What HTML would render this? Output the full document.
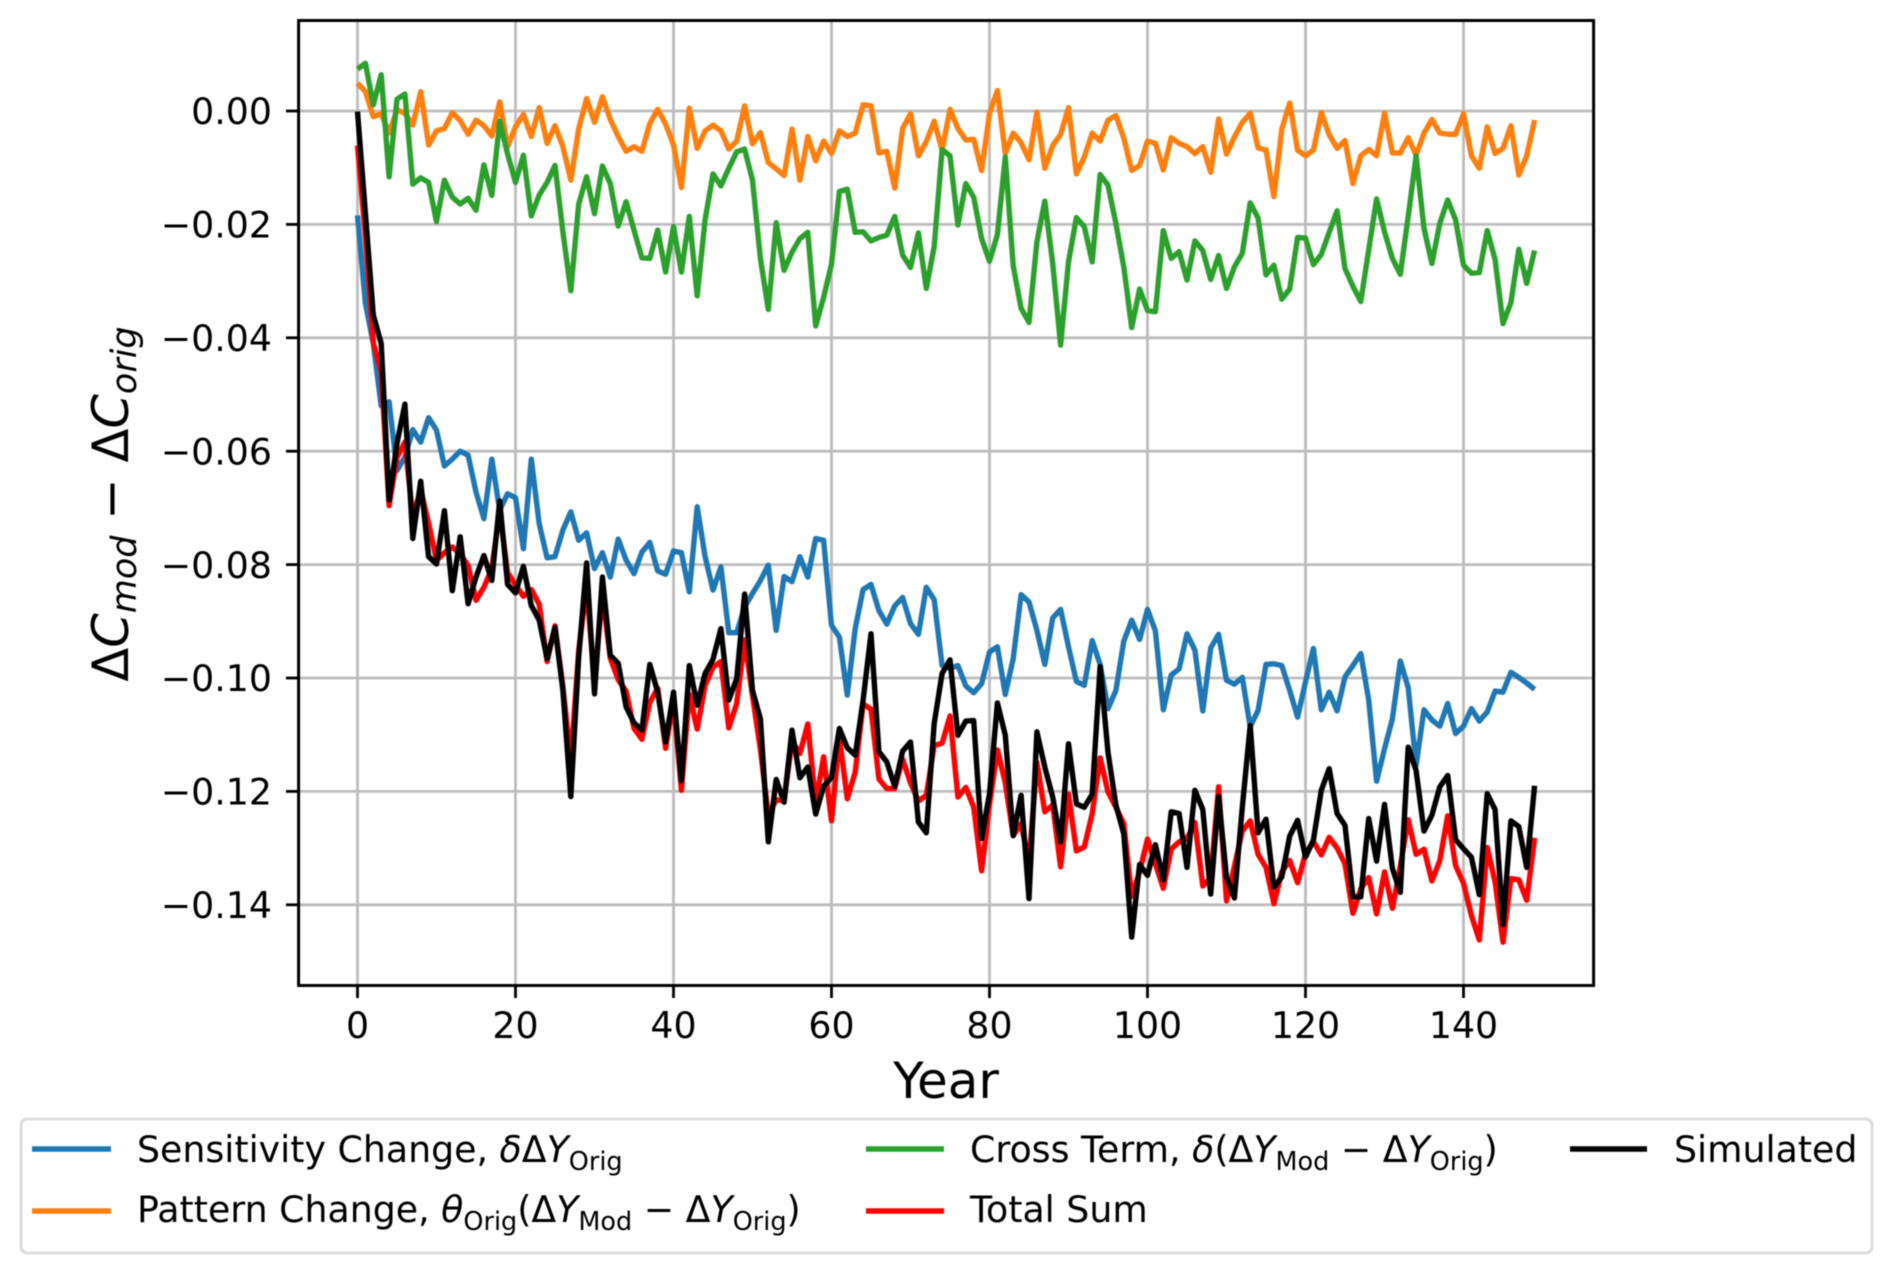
<!DOCTYPE html>
<html lang="en">
<head>
<meta charset="utf-8">
<title>Change in C by year</title>
<style>
html,body{margin:0;padding:0;background:#fff;}
svg{display:block;font-family:"DejaVu Sans","Liberation Sans",sans-serif;fill:#000;filter:blur(0.6px);}
text{white-space:pre;}
</style>
</head>
<body>
<svg id="chart" xmlns="http://www.w3.org/2000/svg" width="1892" height="1274" viewBox="0 0 1892 1274">
<defs><clipPath id="plot-clip"><rect x="298.6" y="20.5" width="1295" height="965"/></clipPath></defs>
<rect x="0" y="0" width="1892" height="1274" fill="#fff"/>
<g id="grid"></g>
<g id="series" clip-path="url(#plot-clip)"></g>
<rect x="298.6" y="20.5" width="1295" height="965" fill="none" stroke="#000" stroke-width="3"/>
<g id="ticks"></g>
<text x="946" y="1098" font-size="50" text-anchor="middle">Year</text>
<text transform="translate(128,504) rotate(-90)" font-size="49.5" text-anchor="middle">Δ<tspan font-style="italic">C</tspan><tspan font-style="italic" font-size="35" dy="8">mod</tspan><tspan dy="-8"> − Δ</tspan><tspan font-style="italic">C</tspan><tspan font-style="italic" font-size="35" dy="8">orig</tspan></text>
<g>
<rect x="21" y="1119" width="1851" height="134" rx="6" ry="6" fill="#fff" stroke="#dcdcdc" stroke-width="3"/>
<line x1="32" x2="111" y1="1149" y2="1149" stroke="#1f77b4" stroke-width="5.4"/>
<text x="137" y="1162" font-size="36.3">Sensitivity Change, <tspan font-style="italic">δ</tspan>Δ<tspan font-style="italic">Y</tspan><tspan font-size="25.5" dy="8">Orig</tspan></text>
<line x1="32" x2="111" y1="1211" y2="1211" stroke="#ff7f0e" stroke-width="5.4"/>
<text x="137" y="1222" font-size="36.3">Pattern Change, <tspan font-style="italic">θ</tspan><tspan font-size="25.5" dy="8">Orig</tspan><tspan dy="-8">(Δ</tspan><tspan font-style="italic">Y</tspan><tspan font-size="25.5" dy="8">Mod</tspan><tspan dy="-8"> − Δ</tspan><tspan font-style="italic">Y</tspan><tspan font-size="25.5" dy="8">Orig</tspan><tspan dy="-8">)</tspan></text>
<line x1="866" x2="944" y1="1149" y2="1149" stroke="#2ca02c" stroke-width="5.4"/>
<text x="970" y="1162" font-size="36.3">Cross Term, <tspan font-style="italic">δ</tspan>(Δ<tspan font-style="italic">Y</tspan><tspan font-size="25.5" dy="8">Mod</tspan><tspan dy="-8"> − Δ</tspan><tspan font-style="italic">Y</tspan><tspan font-size="25.5" dy="8">Orig</tspan><tspan dy="-8">)</tspan></text>
<line x1="866" x2="944" y1="1211" y2="1211" stroke="#ff0000" stroke-width="5.4"/>
<text x="970" y="1222" font-size="36.3">Total Sum</text>
<line x1="1570" x2="1647" y1="1149" y2="1149" stroke="#000" stroke-width="5.4"/>
<text x="1674" y="1162" font-size="36.3">Simulated</text>
</g>
</svg>
<script>
const xTickValues = [0, 20, 40, 60, 80, 100, 120, 140];
const xTickLabels = ["0", "20", "40", "60", "80", "100", "120", "140"];
const yTickValues = [0, -0.02, -0.04, -0.06, -0.08, -0.10, -0.12, -0.14];
const yTickLabels = ["0.00", "−0.02", "−0.04", "−0.06", "−0.08", "−0.10", "−0.12", "−0.14"];

const sensitivityChange = [-0.0184,-0.0339,-0.0410,-0.0520,-0.0513,-0.0634,-0.0610,-0.0562,-0.0584,-0.0541,
-0.0563,-0.0626,-0.0614,-0.0600,-0.0607,-0.0672,-0.0719,-0.0614,-0.0704,-0.0675,
-0.0682,-0.0772,-0.0614,-0.0728,-0.0788,-0.0786,-0.0739,-0.0707,-0.0757,-0.0744,
-0.0807,-0.0779,-0.0822,-0.0755,-0.0792,-0.0816,-0.0778,-0.0761,-0.0811,-0.0817,
-0.0776,-0.0779,-0.0848,-0.0698,-0.0786,-0.0845,-0.0804,-0.0920,-0.0920,-0.0875,
-0.0851,-0.0828,-0.0801,-0.0916,-0.0821,-0.0830,-0.0786,-0.0822,-0.0754,-0.0757,
-0.0907,-0.0928,-0.1030,-0.0913,-0.0844,-0.0835,-0.0881,-0.0905,-0.0873,-0.0858,
-0.0904,-0.0923,-0.0840,-0.0862,-0.0978,-0.0983,-0.0978,-0.1014,-0.1026,-0.1010,
-0.0954,-0.0945,-0.1029,-0.0966,-0.0853,-0.0866,-0.0916,-0.0976,-0.0894,-0.0879,
-0.0945,-0.1006,-0.1013,-0.0934,-0.0976,-0.1054,-0.1022,-0.0935,-0.0898,-0.0932,
-0.0879,-0.0917,-0.1056,-0.0995,-0.0984,-0.0922,-0.0951,-0.1058,-0.0947,-0.0923,
-0.1004,-0.1011,-0.0999,-0.1086,-0.1057,-0.0976,-0.0975,-0.0978,-0.1022,-0.1069,
-0.1007,-0.0948,-0.1056,-0.1025,-0.1058,-0.0998,-0.0978,-0.0957,-0.1039,-0.1182,
-0.1125,-0.1072,-0.0970,-0.1017,-0.1154,-0.1056,-0.1074,-0.1085,-0.1045,-0.1098,
-0.1085,-0.1054,-0.1076,-0.1060,-0.1023,-0.1025,-0.0990,-0.0999,-0.1009,-0.1020];

const patternChange = [0.0049,0.0034,-0.0010,-0.0005,-0.0039,0.0002,-0.0004,-0.0025,0.0034,-0.0060,
-0.0035,-0.0031,-0.0003,-0.0017,-0.0041,-0.0016,-0.0026,-0.0044,0.0016,-0.0063,
-0.0028,-0.0006,-0.0045,0.0006,-0.0057,-0.0026,-0.0063,-0.0122,-0.0031,0.0022,
-0.0020,0.0025,-0.0015,-0.0045,-0.0071,-0.0063,-0.0071,-0.0022,0.0003,-0.0023,
-0.0060,-0.0135,0.0005,-0.0066,-0.0035,-0.0025,-0.0035,-0.0067,-0.0053,0.0009,
-0.0058,-0.0038,-0.0091,-0.0102,-0.0114,-0.0032,-0.0122,-0.0045,-0.0088,-0.0053,
-0.0075,-0.0035,-0.0045,-0.0039,0.0011,0.0009,-0.0074,-0.0071,-0.0136,-0.0031,
-0.0005,-0.0079,-0.0054,-0.0018,-0.0069,0.0003,-0.0031,-0.0051,-0.0050,-0.0105,
-0.0004,0.0036,-0.0075,-0.0039,-0.0056,-0.0086,-0.0002,-0.0101,-0.0061,-0.0041,
0.0006,-0.0111,-0.0081,-0.0039,-0.0053,-0.0016,-0.0008,-0.0048,-0.0105,-0.0096,
-0.0053,-0.0057,-0.0104,-0.0047,-0.0057,-0.0063,-0.0075,-0.0063,-0.0108,-0.0014,
-0.0076,-0.0046,-0.0020,-0.0004,-0.0065,-0.0069,-0.0151,-0.0032,0.0014,-0.0069,
-0.0079,-0.0069,-0.0003,-0.0042,-0.0066,-0.0052,-0.0128,-0.0079,-0.0068,-0.0079,
-0.0004,-0.0074,-0.0074,-0.0047,-0.0078,-0.0039,-0.0015,-0.0039,-0.0041,-0.0041,
-0.0005,-0.0079,-0.0101,-0.0028,-0.0075,-0.0066,-0.0026,-0.0113,-0.0079,-0.0016];

const crossTerm = [0.0074,0.0084,0.0011,0.0064,-0.0116,0.0021,0.0030,-0.0129,-0.0118,-0.0126,
-0.0195,-0.0122,-0.0152,-0.0164,-0.0154,-0.0175,-0.0095,-0.0149,-0.0018,-0.0076,
-0.0126,-0.0078,-0.0185,-0.0148,-0.0126,-0.0096,-0.0213,-0.0317,-0.0164,-0.0116,
-0.0181,-0.0097,-0.0128,-0.0203,-0.0160,-0.0210,-0.0259,-0.0260,-0.0210,-0.0284,
-0.0204,-0.0284,-0.0186,-0.0326,-0.0192,-0.0111,-0.0132,-0.0101,-0.0072,-0.0067,
-0.0122,-0.0260,-0.0350,-0.0197,-0.0281,-0.0249,-0.0225,-0.0214,-0.0379,-0.0329,
-0.0270,-0.0142,-0.0138,-0.0214,-0.0213,-0.0229,-0.0223,-0.0219,-0.0186,-0.0254,
-0.0276,-0.0215,-0.0313,-0.0239,-0.0068,-0.0079,-0.0201,-0.0128,-0.0152,-0.0225,
-0.0265,-0.0218,-0.0081,-0.0273,-0.0348,-0.0373,-0.0231,-0.0159,-0.0269,-0.0413,
-0.0266,-0.0188,-0.0204,-0.0266,-0.0112,-0.0131,-0.0198,-0.0275,-0.0382,-0.0314,
-0.0352,-0.0354,-0.0211,-0.0260,-0.0248,-0.0298,-0.0229,-0.0246,-0.0297,-0.0255,
-0.0313,-0.0275,-0.0251,-0.0162,-0.0189,-0.0289,-0.0272,-0.0332,-0.0314,-0.0223,
-0.0224,-0.0271,-0.0253,-0.0214,-0.0176,-0.0278,-0.0309,-0.0336,-0.0245,-0.0155,
-0.0213,-0.0260,-0.0288,-0.0186,-0.0079,-0.0207,-0.0269,-0.0198,-0.0157,-0.0192,
-0.0272,-0.0286,-0.0285,-0.0211,-0.0262,-0.0375,-0.0338,-0.0244,-0.0304,-0.0246];

const totalSum = [-0.0061,-0.0221,-0.0409,-0.0461,-0.0696,-0.0611,-0.0584,-0.0716,-0.0668,-0.0727,
-0.0793,-0.0779,-0.0769,-0.0781,-0.0802,-0.0863,-0.0840,-0.0807,-0.0706,-0.0814,
-0.0836,-0.0856,-0.0844,-0.0870,-0.0971,-0.0908,-0.1015,-0.1146,-0.0952,-0.0838,
-0.1008,-0.0851,-0.0965,-0.1003,-0.1023,-0.1089,-0.1108,-0.1043,-0.1018,-0.1124,
-0.1040,-0.1198,-0.1029,-0.1090,-0.1013,-0.0981,-0.0971,-0.1088,-0.1045,-0.0933,
-0.1031,-0.1126,-0.1242,-0.1215,-0.1216,-0.1111,-0.1133,-0.1081,-0.1221,-0.1139,
-0.1252,-0.1105,-0.1213,-0.1166,-0.1046,-0.1055,-0.1178,-0.1195,-0.1195,-0.1143,
-0.1185,-0.1217,-0.1207,-0.1119,-0.1115,-0.1067,-0.1210,-0.1193,-0.1228,-0.1340,
-0.1223,-0.1127,-0.1185,-0.1278,-0.1257,-0.1325,-0.1149,-0.1236,-0.1224,-0.1333,
-0.1205,-0.1305,-0.1298,-0.1239,-0.1141,-0.1201,-0.1228,-0.1257,-0.1385,-0.1342,
-0.1284,-0.1328,-0.1371,-0.1302,-0.1289,-0.1283,-0.1255,-0.1367,-0.1352,-0.1192,
-0.1393,-0.1332,-0.1270,-0.1252,-0.1311,-0.1334,-0.1398,-0.1342,-0.1322,-0.1361,
-0.1310,-0.1288,-0.1312,-0.1281,-0.1300,-0.1328,-0.1415,-0.1372,-0.1352,-0.1416,
-0.1342,-0.1406,-0.1332,-0.1250,-0.1311,-0.1302,-0.1358,-0.1322,-0.1243,-0.1331,
-0.1362,-0.1419,-0.1462,-0.1299,-0.1360,-0.1466,-0.1354,-0.1356,-0.1392,-0.1282];

const simulated = [-0.0001,-0.0180,-0.0360,-0.0410,-0.0686,-0.0586,-0.0517,-0.0754,-0.0653,-0.0786,
-0.0799,-0.0705,-0.0846,-0.0751,-0.0869,-0.0822,-0.0784,-0.0828,-0.0688,-0.0835,
-0.0850,-0.0803,-0.0872,-0.0898,-0.0966,-0.0911,-0.1022,-0.1209,-0.0963,-0.0797,
-0.1028,-0.0822,-0.0960,-0.0974,-0.1051,-0.1079,-0.1092,-0.0976,-0.1025,-0.1113,
-0.1025,-0.1181,-0.0978,-0.1048,-0.0992,-0.0967,-0.0913,-0.1039,-0.1001,-0.0852,
-0.1022,-0.1072,-0.1289,-0.1179,-0.1219,-0.1092,-0.1176,-0.1157,-0.1240,-0.1191,
-0.1175,-0.1089,-0.1123,-0.1136,-0.1039,-0.0922,-0.1130,-0.1148,-0.1191,-0.1129,
-0.1113,-0.1254,-0.1273,-0.1080,-0.0992,-0.0968,-0.1101,-0.1076,-0.1075,-0.1283,
-0.1204,-0.1044,-0.1101,-0.1278,-0.1207,-0.1389,-0.1095,-0.1157,-0.1210,-0.1289,
-0.1116,-0.1222,-0.1228,-0.1205,-0.0980,-0.1131,-0.1224,-0.1275,-0.1457,-0.1329,
-0.1348,-0.1294,-0.1356,-0.1236,-0.1239,-0.1334,-0.1198,-0.1232,-0.1381,-0.1209,
-0.1351,-0.1388,-0.1228,-0.1084,-0.1273,-0.1249,-0.1369,-0.1351,-0.1279,-0.1251,
-0.1316,-0.1286,-0.1198,-0.1160,-0.1239,-0.1260,-0.1386,-0.1386,-0.1248,-0.1323,
-0.1223,-0.1336,-0.1378,-0.1122,-0.1163,-0.1270,-0.1242,-0.1192,-0.1172,-0.1285,
-0.1301,-0.1316,-0.1382,-0.1204,-0.1232,-0.1435,-0.1252,-0.1262,-0.1334,-0.1190];

function xScale(year) { return 357.5 + 7.9 * year; }
function yScale(value) { return 111 - 5670 * value; }

const svgNS = 'http://www.w3.org/2000/svg';
const gridGroup = document.getElementById('grid');
const tickGroup = document.getElementById('ticks');
const seriesGroup = document.getElementById('series');

function makeLine(parent, x1, y1, x2, y2, stroke) {
  const el = document.createElementNS(svgNS, 'line');
  el.setAttribute('x1', x1);
  el.setAttribute('y1', y1);
  el.setAttribute('x2', x2);
  el.setAttribute('y2', y2);
  el.setAttribute('stroke', stroke);
  el.setAttribute('stroke-width', '2.8');
  parent.appendChild(el);
  return el;
}

xTickValues.forEach(function (v, i) {
  const px = xScale(v);
  const g = makeLine(gridGroup, px, 20.5, px, 985.5, '#bcbcbc');
  
  
  const t = makeLine(tickGroup, px, 985.5, px, 998, '#000');
  
  
  const label = document.createElementNS(svgNS, 'text');
  label.setAttribute('x', px);
  label.setAttribute('y', 1038);
  label.setAttribute('font-size', '36.3');
  label.setAttribute('text-anchor', 'middle');
  label.textContent = xTickLabels[i];
  
  
  tickGroup.appendChild(label);
});

yTickValues.forEach(function (v, i) {
  const py = yScale(v);
  const g = makeLine(gridGroup, 298.6, py, 1593.6, py, '#bcbcbc');
  
  
  const t = makeLine(tickGroup, 286, py, 298.6, py, '#000');
  
  
  const label = document.createElementNS(svgNS, 'text');
  label.setAttribute('x', 272);
  label.setAttribute('y', py + 13.2);
  label.setAttribute('font-size', '36.3');
  label.setAttribute('text-anchor', 'end');
  label.textContent = yTickLabels[i];
  
  
  tickGroup.appendChild(label);
});

function drawSeries(values, color, name) {
  const d = values.map(function (v, i) {
    return (i ? 'L' : 'M') + xScale(i).toFixed(2) + ' ' + yScale(v).toFixed(2);
  }).join(' ');
  const el = document.createElementNS(svgNS, 'path');
  el.setAttribute('d', d);
  el.setAttribute('fill', 'none');
  el.setAttribute('stroke', color);
  el.setAttribute('stroke-width', '5.4');
  el.setAttribute('stroke-linejoin', 'round');
  el.setAttribute('stroke-linecap', 'butt');
  
  
  seriesGroup.appendChild(el);
}

drawSeries(sensitivityChange, '#1f77b4', 'sensitivity-change-line');
drawSeries(patternChange, '#ff7f0e', 'pattern-change-line');
drawSeries(crossTerm, '#2ca02c', 'cross-term-line');
drawSeries(totalSum, '#ff0000', 'total-sum-line');
drawSeries(simulated, '#000000', 'simulated-line');
</script>
</body>
</html>
